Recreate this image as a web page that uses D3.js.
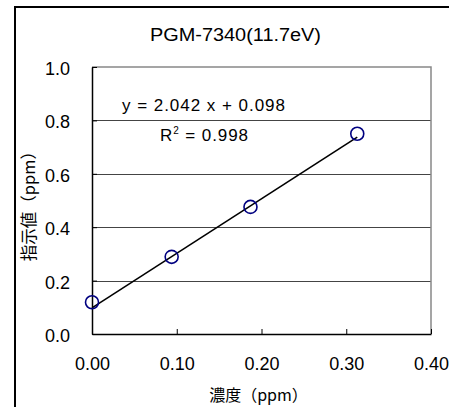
<!DOCTYPE html>
<html>
<head>
<meta charset="utf-8">
<script src="https://cdn.jsdelivr.net/npm/d3@7"></script>
<style>
  html, body { margin: 0; padding: 0; background: #fff; }
  svg { display: block; }
</style>
</head>
<body>
<script>
// ---- data ----
const concentration = [0.000, 0.094, 0.187, 0.313];
const reading = [0.119, 0.289, 0.476, 0.750];
const fitSlope = 2.042;
const fitIntercept = 0.098;
const xTickValues = [0.00, 0.10, 0.20, 0.30, 0.40];
const yTickValues = [0.0, 0.2, 0.4, 0.6, 0.8, 1.0];
const titleText = "PGM-7340(11.7eV)";
const xLabel = "濃度（ppm）";
const yLabel = "指示値（ppm）";
const eqText = "y = 2.042 x + 0.098";
const r2Value = "0.998";

const W = 449, H = 407;
const svg = d3.select("body").append("svg").attr("width", W).attr("height", H);
svg.append("rect").attr("width", W).attr("height", H).attr("fill", "#fff");

// outer chart-area border (right/bottom outside of the picture)
svg.append("path")
  .attr("d", `M15,${H + 5} L15,7 L${W + 5},7`)
  .attr("fill", "none").attr("stroke", "#000").attr("stroke-width", 2);

const pL = 92, pR = 431, pT = 67, pB = 334;
const x = d3.scaleLinear().domain([0, 0.4]).range([pL, pR]);
const y = d3.scaleLinear().domain([0, 1.0]).range([pB, pT]);

// gridlines
const grid = svg.append("g").attr("transform", `translate(${pL},0)`)
  .call(d3.axisLeft(y).tickValues(yTickValues.filter(v => v > 0 && v < 1)).tickSize(-(pR - pL)).tickFormat(""));
grid.select(".domain").remove();
grid.selectAll("line").attr("stroke", "#444").attr("stroke-width", 1).attr("shape-rendering", "crispEdges");

// plot frame top/right (gray)
svg.append("path")
  .attr("d", `M${pL},${pT} L${pR},${pT} L${pR},${pB}`)
  .attr("fill", "none").attr("stroke", "#888").attr("stroke-width", 1.5);

// x axis
const xa = svg.append("g").attr("transform", `translate(0,${pB})`)
  .call(d3.axisBottom(x).tickValues(xTickValues).tickFormat(d3.format(".2f"))
    .tickSizeInner(-5).tickSizeOuter(0).tickPadding(23));
xa.select(".domain").attr("stroke", "#000").attr("stroke-width", 1.5);
xa.selectAll("line").attr("stroke", "#000").attr("stroke-width", 1);
xa.selectAll("text").attr("font-family", "'Liberation Sans', Arial, sans-serif").attr("font-size", 18).attr("fill", "#000");

// y axis
const ya = svg.append("g").attr("transform", `translate(${pL},0)`)
  .call(d3.axisLeft(y).tickValues(yTickValues).tickFormat(d3.format(".1f"))
    .tickSizeInner(-5).tickSizeOuter(0).tickPadding(22));
ya.select(".domain").attr("stroke", "#000").attr("stroke-width", 1.5);
ya.selectAll("line").attr("stroke", "#000").attr("stroke-width", 1);
ya.selectAll("text").attr("font-family", "'Liberation Sans', Arial, sans-serif").attr("font-size", 18).attr("fill", "#000").attr("dy", "0.42em");

// regression line
const xEnd = d3.max(concentration);
svg.append("line")
  .attr("x1", x(0)).attr("y1", y(fitIntercept))
  .attr("x2", x(xEnd)).attr("y2", y(fitSlope * xEnd + fitIntercept))
  .attr("stroke", "#000").attr("stroke-width", 1.6);

// points
svg.append("g").selectAll("circle").data(concentration).join("circle")
  .attr("cx", d => x(d)).attr("cy", (d, i) => y(reading[i])).attr("r", 6.5)
  .attr("fill", "none").attr("stroke", "#000080").attr("stroke-width", 1.6);

// title
svg.append("text").attr("x", 150).attr("y", 41)
  .attr("font-family", "'Liberation Sans', Arial, sans-serif").attr("font-size", 18)
  .attr("textLength", 171).attr("lengthAdjust", "spacingAndGlyphs")
  .text(titleText);

// equation
svg.append("text").attr("x", 122).attr("y", 111)
  .attr("font-family", "'Liberation Sans', Arial, sans-serif").attr("font-size", 17)
  .attr("textLength", 163).attr("lengthAdjust", "spacing")
  .text(eqText);
const r2 = svg.append("text").attr("x", 160).attr("y", 141)
  .attr("font-family", "'Liberation Sans', Arial, sans-serif").attr("font-size", 17)
  .attr("textLength", 88).attr("lengthAdjust", "spacing");
r2.append("tspan").text("R");
r2.append("tspan").attr("dy", -7).attr("font-size", 10).text("2");
r2.append("tspan").attr("dy", 7).text(" = " + r2Value);

// axis titles
svg.append("text").attr("x", 258.5).attr("y", 401).attr("text-anchor", "middle")
  .attr("font-family", "'Noto Sans CJK JP', sans-serif").attr("font-size", 16).text(xLabel);
svg.append("text").attr("transform", "translate(35,202) rotate(-90)").attr("text-anchor", "middle")
  .attr("font-family", "'Noto Sans CJK JP', sans-serif").attr("font-size", 16.5).text(yLabel);
</script>
</body>
</html>
